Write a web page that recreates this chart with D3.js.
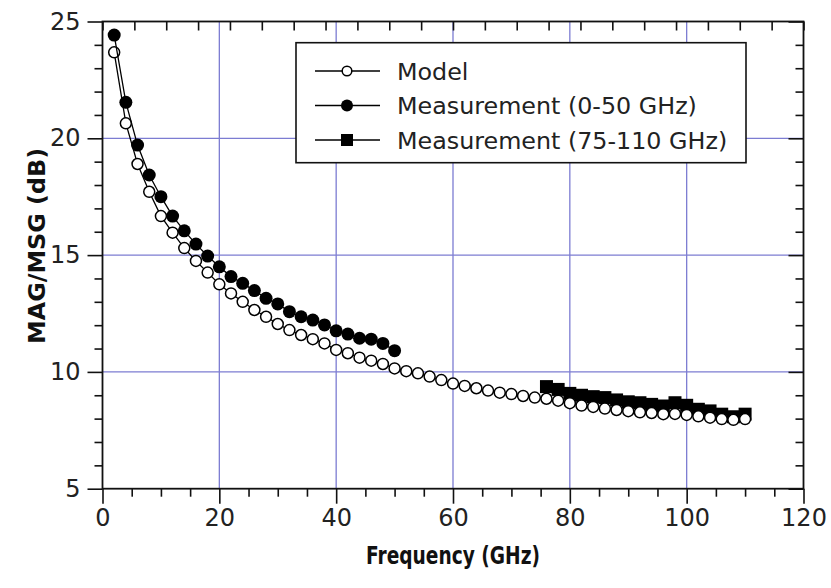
<!DOCTYPE html>
<html><head><meta charset="utf-8">
<script src="https://cdn.jsdelivr.net/npm/d3@7"></script>
<style>html,body{margin:0;padding:0;background:#fff;}</style>
</head><body>
<script>
// ---------- data ----------
const modelFreq = [2,4,6,8,10,12,14,16,18,20,22,24,26,28,30,32,34,36,38,40,42,44,46,48,50,52,54,56,58,60,62,64,66,68,70,72,74,76,78,80,82,84,86,88,90,92,94,96,98,100,102,104,106,108,110];
const modelVal  = [23.68,20.64,18.9,17.71,16.67,15.96,15.3,14.75,14.25,13.75,13.36,13.0,12.65,12.36,12.05,11.79,11.58,11.4,11.22,10.94,10.8,10.61,10.48,10.34,10.15,10.03,9.94,9.8,9.65,9.5,9.4,9.3,9.2,9.11,9.05,8.97,8.9,8.85,8.77,8.66,8.56,8.5,8.43,8.37,8.32,8.27,8.24,8.19,8.2,8.16,8.1,8.04,7.98,7.95,7.98];
const meas1Freq = [2,4,6,8,10,12,14,16,18,20,22,24,26,28,30,32,34,36,38,40,42,44,46,48,50];
const meas1Val  = [24.42,21.54,19.71,18.43,17.5,16.67,16.04,15.47,14.96,14.5,14.08,13.79,13.48,13.15,12.91,12.58,12.36,12.22,12.01,11.76,11.62,11.44,11.4,11.22,10.91];
const meas2Freq = [76,78,80,82,84,86,88,90,92,94,96,98,100,102,104,106,108,110];
const meas2Val  = [9.37,9.25,9.08,9.0,8.94,8.9,8.8,8.72,8.68,8.61,8.54,8.68,8.57,8.4,8.33,8.19,8.08,8.19];
const xTickValues = [0,20,40,60,80,100,120];
const yTickValues = [5,10,15,20,25];
const legendLabels = ["Model","Measurement (0-50 GHz)","Measurement (75-110 GHz)"];
const xTitle = "Frequency (GHz)";
const yTitle = "MAG/MSG (dB)";

// ---------- layout ----------
const W = 831, H = 588;
const L = 102.5, R = 803.5, T = 21.5, B = 488.7;
const svg = d3.select("body").append("svg").attr("width", W).attr("height", H);

const x = d3.scaleLinear().domain([0,120]).range([L,R]);
const y = d3.scaleLinear().domain([5,25]).range([B,T]);
const xTop = d3.scaleLinear().domain([0,22]).range([L,R]);

const gridColor = "#7c7cd2";
// grid
const g = svg.append("g");
g.selectAll("line.gx").data(xTickValues.slice(1,-1)).enter().append("line")
  .attr("x1", d=>x(d)).attr("x2", d=>x(d)).attr("y1", T).attr("y2", B)
  .attr("stroke", gridColor).attr("stroke-width", 1.3);
g.selectAll("line.gy").data(yTickValues.slice(1,-1)).enter().append("line")
  .attr("y1", d=>y(d)).attr("y2", d=>y(d)).attr("x1", L).attr("x2", R)
  .attr("stroke", gridColor).attr("stroke-width", 1.3);

const font = "'DejaVu Sans', sans-serif";
// axes
const xMinor = d3.range(0,121,5).filter(v=>v%20!==0);
const yMinor = d3.range(5,26,1).filter(v=>v%5!==0);

const axB = svg.append("g").attr("transform",`translate(0,${B})`)
  .call(d3.axisBottom(x).tickValues(xTickValues).tickSize(15).tickPadding(5).tickFormat(d3.format("d")));
const axBm = svg.append("g").attr("transform",`translate(0,${B})`)
  .call(d3.axisBottom(x).tickValues(xMinor).tickSize(8).tickFormat(""));
const axL = svg.append("g").attr("transform",`translate(${L},0)`)
  .call(d3.axisLeft(y).tickValues(yTickValues).tickSize(15).tickPadding(7).tickFormat(d3.format("d")));
const axLm = svg.append("g").attr("transform",`translate(${L},0)`)
  .call(d3.axisLeft(y).tickValues(yMinor).tickSize(8).tickFormat(""));
const axR = svg.append("g").attr("transform",`translate(${R},0)`)
  .call(d3.axisLeft(y).tickValues(yTickValues).tickSize(15).tickFormat(""));
const axRm = svg.append("g").attr("transform",`translate(${R},0)`)
  .call(d3.axisLeft(y).tickValues(yMinor).tickSize(8).tickFormat(""));
const axT = svg.append("g").attr("transform",`translate(0,${T})`)
  .call(d3.axisBottom(xTop).ticks(22).tickSize(9).tickFormat(""));
[axB,axBm,axL,axLm,axR,axRm,axT].forEach(a=>{
  a.select(".domain").remove();
  a.selectAll(".tick line").attr("stroke","#111").attr("stroke-width",1.6);
  a.selectAll(".tick text").attr("font-family",font).attr("font-size",24).attr("fill","#222");
});
svg.append("rect").attr("x",L).attr("y",T).attr("width",R-L).attr("height",B-T)
  .attr("fill","none").attr("stroke","#111").attr("stroke-width",1.8);

// series
const line = d3.line().x(d=>x(d[0])).y(d=>y(d[1]));
const model = modelFreq.map((f,i)=>[f,modelVal[i]]);
const m1 = meas1Freq.map((f,i)=>[f,meas1Val[i]]);
const m2 = meas2Freq.map((f,i)=>[f,meas2Val[i]]);

svg.append("path").attr("d",line(m2)).attr("fill","none").attr("stroke","#000").attr("stroke-width",1.3);
svg.selectAll("rect.sq").data(m2).enter().append("rect")
  .attr("x",d=>x(d[0])-6.5).attr("y",d=>y(d[1])-6.5).attr("width",13).attr("height",13).attr("fill","#000");

svg.append("path").attr("d",line(model)).attr("fill","none").attr("stroke","#000").attr("stroke-width",1.3);
svg.selectAll("circle.mo").data(model).enter().append("circle")
  .attr("cx",d=>x(d[0])).attr("cy",d=>y(d[1])).attr("r",5.5)
  .attr("fill","#fff").attr("stroke","#000").attr("stroke-width",1.5);

svg.append("path").attr("d",line(m1)).attr("fill","none").attr("stroke","#000").attr("stroke-width",1.3);
svg.selectAll("circle.m1").data(m1).enter().append("circle")
  .attr("cx",d=>x(d[0])).attr("cy",d=>y(d[1])).attr("r",6.5).attr("fill","#000");

// legend
const lg = svg.append("g");
lg.append("rect").attr("x",296).attr("y",42.7).attr("width",450).attr("height",120)
  .attr("fill","#fff").attr("stroke","#111").attr("stroke-width",1.6);
const rowsY = [71,105.5,140];
legendLabels.forEach((lab,i)=>{
  const yy = rowsY[i];
  lg.append("line").attr("x1",315).attr("x2",380).attr("y1",yy).attr("y2",yy).attr("stroke","#000").attr("stroke-width",1.4);
  if(i===0) lg.append("circle").attr("cx",347).attr("cy",yy).attr("r",4.8).attr("fill","#fff").attr("stroke","#000").attr("stroke-width",1.5);
  if(i===1) lg.append("circle").attr("cx",347).attr("cy",yy).attr("r",6).attr("fill","#000");
  if(i===2) lg.append("rect").attr("x",341).attr("y",yy-6).attr("width",12).attr("height",12).attr("fill","#000");
  lg.append("text").attr("x",397).attr("y",yy).attr("dy","0.36em").attr("font-family",font)
    .attr("font-size",23.8).attr("fill","#222").text(lab);
});

// titles
const tfont = "'DejaVu Sans',sans-serif";
svg.append("text").attr("x",453).attr("y",564).attr("text-anchor","middle")
  .attr("font-family",tfont).attr("font-weight","bold").attr("font-size",24).attr("fill","#111")
  .attr("textLength",174).attr("lengthAdjust","spacingAndGlyphs").text(xTitle);
svg.append("text").attr("transform","translate(45,246) rotate(-90)").attr("text-anchor","middle")
  .attr("font-family",tfont).attr("font-weight","bold").attr("font-size",23).attr("fill","#111")
  .attr("textLength",196).attr("lengthAdjust","spacingAndGlyphs").text(yTitle);
</script>
</body></html>
